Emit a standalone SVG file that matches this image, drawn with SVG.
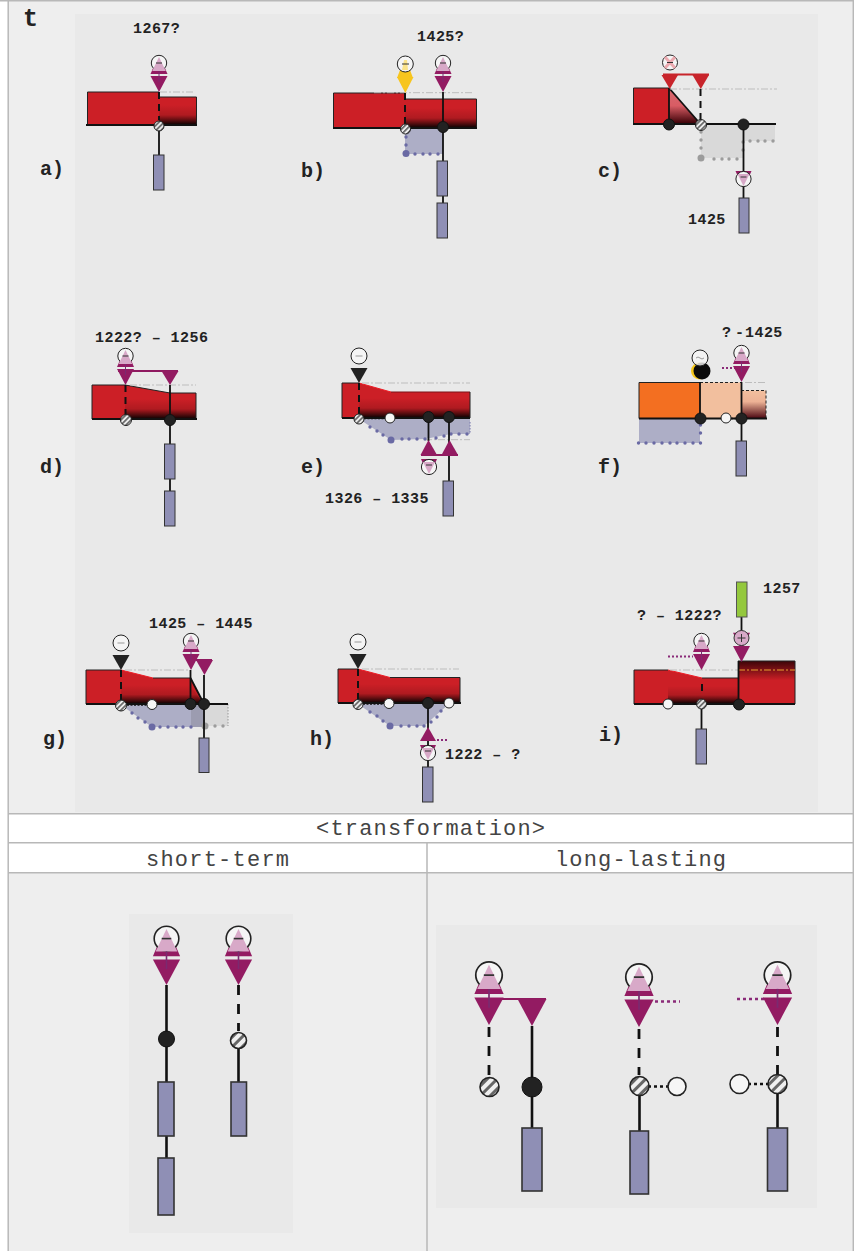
<svg xmlns="http://www.w3.org/2000/svg" width="854" height="1251" viewBox="0 0 854 1251">
<style>
.tx{font-family:"Liberation Mono",monospace;font-weight:bold;font-size:15px;letter-spacing:.45px;fill:#222}
.pl{font-family:"Liberation Mono",monospace;font-weight:bold;font-size:20px;fill:#222}
.tt{font-size:25px}
.hd{font-family:"Liberation Mono",monospace;font-size:22px;fill:#444}
.red{fill:#cc1f26}
.ol{fill:none;stroke:#222;stroke-width:1}
.base{stroke:#111;stroke-width:2;fill:none}
.sol{stroke:#111;stroke-width:1.8;fill:none}
.dash{stroke:#111;stroke-width:2;fill:none;stroke-dasharray:7 5}
.dd{stroke:#bdbdbd;stroke-width:1;fill:none;stroke-dasharray:7 2 2 2}
.dot{stroke:#111;stroke-width:1.6;fill:none;stroke-dasharray:2 1.5}
.pd{stroke:#8a2a78;stroke-width:1.8;fill:none;stroke-dasharray:2 2}
.bar{stroke:#8f1a60;stroke-width:2;fill:none}
.mg{fill:#931b62}
.blue{fill:#adaec6}
.gy{fill:#d9d9d9}
.bd{fill:#6a6aa4}
.gd{fill:#9c9c9c}
.box{fill:#8f8fb5;stroke:#333;stroke-width:1}
.blk{fill:#222;stroke:#111;stroke-width:1}
.wht{fill:#f6f6f6;stroke:#222;stroke-width:1}
.hat{fill:url(#hatch);stroke:#222;stroke-width:1}
.hat2{fill:url(#hatch2);stroke:#222;stroke-width:1.6}
.cir{fill:#f5f5f5;stroke:#222;stroke-width:1}
.pk{fill:#d8a9c8}
.mn{stroke:#333;stroke-width:1;fill:none}
.k2{stroke-width:1.6px}
.l2{stroke-width:2.6px}
.d2{stroke-width:2.8px;stroke-dasharray:10 9}
.o2{stroke-width:2.6px;stroke-dasharray:3 3}
</style>
<defs>
<linearGradient id="shade" x1="0" y1="0" x2="0" y2="1"><stop offset="0" stop-color="#000" stop-opacity="0"/><stop offset="0.5" stop-color="#100" stop-opacity="0.15"/><stop offset="1" stop-color="#000" stop-opacity="0.97"/></linearGradient>
<linearGradient id="slope" x1="0" y1="0" x2="0" y2="1"><stop offset="0" stop-color="#d76a70"/><stop offset="0.5" stop-color="#d85c64"/><stop offset="1" stop-color="#3a0006"/></linearGradient>
<linearGradient id="peach" x1="0" y1="0" x2="0" y2="1"><stop offset="0" stop-color="#f2bf9e"/><stop offset="0.4" stop-color="#edb295"/><stop offset="1" stop-color="#4a0510"/></linearGradient>
<linearGradient id="top" x1="0" y1="0" x2="0" y2="1"><stop offset="0" stop-color="#3c0508"/><stop offset="0.45" stop-color="#cc1f26"/><stop offset="1" stop-color="#cc1f26"/></linearGradient>
<pattern id="hatch" width="3.6" height="3.6" patternUnits="userSpaceOnUse" patternTransform="rotate(-45)"><rect width="3.6" height="3.6" fill="#ececec"/><rect width="3.6" height="1.6" fill="#5e5e5e"/></pattern>
<pattern id="hatch2" width="7" height="7" patternUnits="userSpaceOnUse" patternTransform="rotate(-45)"><rect width="7" height="7" fill="#efefef"/><rect width="7" height="3" fill="#666"/></pattern>
<g id="ves">
<polygon class="mg" points="-5.500,-25 5.500,-25 8.500,-18 -8.500,-18"/>
<polygon class="mg" points="-8.500,-16 8.500,-16 0,0"/>
<circle class="cir" cx="0" cy="-29" r="7.700"/>
<polygon class="pk" points="0,-35 6.800,-21 -6.800,-21"/>
<path d="M0,-21V-10" stroke="#7b2a70" stroke-width="1"/>
<path class="mn" d="M-3,-29H3"/>
</g>
<g id="vesup">
<polygon class="mg" points="-8,-8 8,-8 6,-3.500 -6,-3.500"/>
<circle class="cir" r="7.600"/>
<polygon class="pk" points="0,7 6,-5 -6,-5"/>
<path class="mn" d="M-3,-2H3"/>
</g>
</defs>

<g id="table">
<rect width="854" height="1251" fill="#fff"/>
<rect x="8" y="1" width="845" height="813" fill="#eeeeee"/>
<rect x="8" y="873" width="845" height="378" fill="#eeeeee"/>
<rect x="75" y="14" width="743" height="798" fill="#e9e9e9"/>
<rect x="129" y="914" width="164" height="319" fill="#e9e9e9"/>
<rect x="436" y="925" width="381" height="283" fill="#e9e9e9"/>
<path d="M0,.7H854M8.200,0V1251M853.300,0V1251M8,813.700H854M8,842.800H854M8,872.800H854M427,843V1251" stroke="#b8b8b8" stroke-width="1.500" fill="none"/>
<text class="hd" x="316" y="835" textLength="229">&lt;transformation&gt;</text>
<text class="hd" x="146" y="866" textLength="143">short-term</text>
<text class="hd" x="555" y="866" textLength="171">long-lasting</text>
</g>

<g id="terminals">
<g id="term-a">
<polygon class="red" points="87.500,92 159,92 159,97 196.500,97 196.500,125 87.500,125"/>
<rect x="159" y="105" width="37.500" height="20" fill="url(#shade)"/>
<path class="ol" d="M159,97H196.500V125M87.500,125V92H159"/>
<path class="dd" d="M160,92H195"/>
</g>
<g id="term-b">
<rect class="blue" x="405" y="129" width="38" height="25"/>
<polygon class="red" points="333.500,93 405,93 405,99 476.500,99 476.500,128 333.500,128"/>
<rect x="405" y="108" width="71.500" height="20" fill="url(#shade)"/>
<path class="ol" d="M405,99H476.500V128M333.500,128V93H405"/>
<path class="dd" d="M374,92.700H474"/>
<g class="bd"><circle cx="406" cy="153.500" r="3.500"/><circle cx="415" cy="154" r="1.700"/><circle cx="423" cy="154" r="1.700"/><circle cx="430" cy="154" r="1.700"/><circle cx="438" cy="154" r="1.700"/><circle cx="406" cy="137" r="1.700"/><circle cx="406" cy="145" r="1.700"/></g>
</g>
<g id="term-c">
<rect class="gy" x="701" y="125" width="42" height="33"/>
<rect class="gy" x="743" y="125" width="32" height="16"/>
<rect class="red" x="633.500" y="88" width="36" height="36"/>
<polygon points="669,88 700,123.500 669,123.500" fill="url(#slope)"/>
<path class="ol" d="M669,88H633.500V124"/>
<path class="sol" d="M669,88L700,123.500"/>
<path class="dd" d="M670,89H777"/>
<g class="gd"><circle cx="701" cy="158" r="3.500"/><circle cx="714" cy="159" r="1.700"/><circle cx="722" cy="159" r="1.700"/><circle cx="729" cy="159" r="1.700"/><circle cx="737" cy="159" r="1.700"/><circle cx="701" cy="132" r="1.700"/><circle cx="701" cy="140" r="1.700"/><circle cx="701" cy="148" r="1.700"/><circle cx="743" cy="142" r="1.700"/><circle cx="743" cy="150" r="1.700"/><circle cx="750" cy="141" r="1.700"/><circle cx="758" cy="141" r="1.700"/><circle cx="765" cy="141" r="1.700"/><circle cx="773" cy="141" r="1.700"/></g>
</g>
<g id="term-d">
<polygon class="red" points="92,385 125,385 170,393 196,393 196,419 92,419"/>
<rect x="125" y="399" width="71" height="20" fill="url(#shade)"/>
<path class="ol" d="M125,385L170,393H196V419M92,419V385H125"/>
<path class="dd" d="M130,385H196"/>
</g>
<g id="term-e">
<polygon class="blue" points="359,419 391,440 425,439 451,434 470,434 470,418"/>
<polygon class="red" points="342,383 359,383 391,392 470,392 470,417.500 342,417.500"/>
<rect x="359" y="398" width="111" height="20" fill="url(#shade)"/>
<path d="M359,383L391,392" stroke="#ee1c25" stroke-width="1" fill="none"/>
<path d="M391,392H470" stroke="#7c1518" stroke-width="1.200" fill="none"/>
<path class="ol" d="M470,392V418M342,418V383H359"/>
<path class="dd" d="M362,383H470M425,439.700H470"/>
<path d="M470,422V434" stroke="#8585b5" stroke-width="1.200" stroke-dasharray="1.500 1.500"/>
<g class="bd"><circle cx="370" cy="427" r="1.700"/><circle cx="377" cy="431" r="1.700"/><circle cx="383" cy="435" r="1.700"/><circle cx="391" cy="440" r="3.500"/><circle cx="402" cy="439" r="1.700"/><circle cx="409" cy="439" r="1.700"/><circle cx="417" cy="439" r="1.700"/><circle cx="425" cy="439" r="1.700"/><circle cx="436" cy="438" r="1.700"/><circle cx="444" cy="436" r="1.700"/><circle cx="451" cy="434" r="1.700"/><circle cx="459" cy="434" r="1.700"/><circle cx="467" cy="434" r="1.700"/></g>
</g>
<g id="term-f">
<rect class="blue" x="639" y="419" width="61" height="24"/>
<rect x="639" y="382.500" width="61" height="36" fill="#f36f21"/>
<rect x="700" y="382.500" width="41" height="36" fill="#f2bf9e"/>
<rect x="741" y="390.500" width="25" height="28" fill="url(#peach)"/>
<path class="ol" d="M700,382.500H639V418.500"/>
<path d="M700,382.500H741M741,390.500H766V418" stroke="#222" stroke-width="1" stroke-dasharray="3 2" fill="none"/>
<path class="dd" d="M745,382.500H767"/>
<g class="bd"><circle cx="638.500" cy="443" r="1.700"/><circle cx="646" cy="443" r="1.700"/><circle cx="654" cy="443" r="1.700"/><circle cx="662" cy="443" r="1.700"/><circle cx="670" cy="443" r="1.700"/><circle cx="677" cy="443" r="1.700"/><circle cx="685" cy="443" r="1.700"/><circle cx="693" cy="443" r="1.700"/><circle cx="700.500" cy="443" r="1.700"/><circle cx="700.500" cy="425" r="1.700"/><circle cx="700.500" cy="433" r="1.700"/></g>
</g>
<g id="term-g">
<rect class="gy" x="191" y="705" width="37" height="21"/>
<polygon class="blue" points="121,705 152,727 205,727 205,705"/>
<rect x="191" y="705" width="14" height="22" fill="#9c9cb0"/>
<polygon class="red" points="86,670 121,670 153,678 190.500,678 204,704 86,704"/>
<polygon points="121,685 190,685 204,704 121,704" fill="url(#shade)"/>
<path d="M121,670L153,678" stroke="#ee1c25" stroke-width="1" fill="none"/>
<path class="ol" d="M121,670H86V704M153,678H190.500"/>
<path class="sol" d="M190.500,678L204,704"/>
<path class="dd" d="M125,670H190"/>
<path d="M228,704V726" stroke="#999" stroke-width="1" stroke-dasharray="1.500 1.500"/>
<g class="bd"><circle cx="132" cy="713" r="1.700"/><circle cx="138" cy="718" r="1.700"/><circle cx="145" cy="722" r="1.700"/><circle cx="152" cy="727" r="3.500"/><circle cx="160" cy="727" r="1.700"/><circle cx="168" cy="727" r="1.700"/><circle cx="176" cy="727" r="1.700"/><circle cx="183" cy="727" r="1.700"/><circle cx="191" cy="727" r="1.700"/></g>
<g class="gd"><circle cx="205" cy="726" r="3.500"/><circle cx="215" cy="726" r="1.700"/><circle cx="223" cy="726" r="1.700"/></g>
</g>
<g id="term-h">
<polygon class="blue" points="358,704 390,726 424,726 442,710 449,704"/>
<polygon class="red" points="338,669 358,669 390,677.500 460,677.500 460,703 338,703"/>
<rect x="358" y="684" width="102" height="19" fill="url(#shade)"/>
<path d="M358,669L390,677.500" stroke="#ee1c25" stroke-width="1" fill="none"/>
<path class="ol" d="M390,677.500H460V703M338,703V669H358"/>
<path class="dd" d="M362,669H459"/>
<g class="bd"><circle cx="370" cy="712" r="1.700"/><circle cx="377" cy="716" r="1.700"/><circle cx="383" cy="721" r="1.700"/><circle cx="390" cy="726" r="3.500"/><circle cx="401" cy="726" r="1.700"/><circle cx="409" cy="726" r="1.700"/><circle cx="417" cy="726" r="1.700"/><circle cx="424" cy="726" r="1.700"/><circle cx="431" cy="722" r="1.700"/><circle cx="437" cy="717" r="1.700"/><circle cx="441" cy="711" r="1.700"/></g>
</g>
<g id="term-i">
<polygon class="red" points="634,670 668,670 702,678 738,678 738,704 634,704"/>
<rect x="668" y="686" width="70" height="18" fill="url(#shade)"/>
<rect x="738" y="661" width="57" height="43" fill="url(#top)"/>
<path d="M668,670L702,678" stroke="#ee1c25" stroke-width="1" fill="none"/>
<path class="ol" d="M668,670H634V704M702,678H738M738,661H795V704"/>
<path class="dd" d="M670,670H738"/>
<path d="M738,670H795" stroke="#e8a030" stroke-width="1" stroke-dasharray="7 2 2 2" fill="none"/>
</g>
</g>

<g id="connectors">
<path class="base" d="M86,125H197M333,128H477M633,124H776M92,419H197M342,418H470M639,418.500H767M86,704H228M338,703H461M634,704H795"/>
<path class="dash" d="M159,92V120M405,93V125M700.500,89V122M125.500,385V415M359,383V414M121,670V700M358,669V700M702,684V694"/>
<path class="sol" d="M159,126V155M443,92V238M669,88V124M743.500,124V198M170,385V526M428.500,417V441M449,417V481M700,382V418M741.500,382V441M190.500,670V704M204,675V738M428,703V767M738.500,661V704M701.500,704V729M741.500,617V631"/>
<path class="dash d2" d="M238.500,985V1031M489,1027V1078M639,1029V1075M777.500,1027V1075"/>
<path class="sol l2" d="M166.500,985V1215M238.500,1040V1082M532,1026V1128M639.500,1086V1131M777.500,1084V1128"/>
<path class="dot" d="M364,418.500H385M673,704H696M127,705H147M363,704H384M731,418.500H737"/>
<path class="dot o2" d="M648,1086.500H668M748,1084H768"/>
<path class="pd" d="M722,368H737M437,740H448M668,656.500H693"/>
<path class="pd o2" d="M655,1001.500H680M737,999H765"/>
<path class="bar" d="M118,371H178M421,455H458M196,660H212M491,999H546"/>
<path stroke="#c8242b" stroke-width="2" fill="none" d="M663,74.500H709"/>
</g>

<g id="panel-a">
<text class="tx" x="133" y="33">1267?</text>
<text class="pl" x="40" y="175">a)</text>
<text class="pl tt" x="23" y="26">t</text>
<use href="#ves" x="159" y="92"/>
<circle class="hat" cx="159" cy="126" r="5"/>
<rect class="box" x="153.500" y="155" width="10.500" height="35"/>
</g>
<g id="panel-b">
<text class="tx" x="417" y="41">1425?</text>
<text class="pl" x="301" y="177">b)</text>
<polygon points="400,70 410,70 413,78 397,78" fill="#f7c51e"/>
<polygon points="397,77 413.500,77 405.300,93" fill="#f7c51e"/>
<circle class="cir" cx="405.300" cy="64" r="8"/>
<polygon points="402,70 408,70 407,60 404,60" fill="#fbe38a"/>
<path class="mn" d="M402,64H409"/>
<use href="#ves" x="443" y="92"/>
<circle class="hat" cx="405.500" cy="129" r="5"/>
<circle class="blk" cx="443" cy="127" r="5.500"/>
<rect class="box" x="437" y="161" width="10.500" height="35"/>
<rect class="box" x="437" y="203" width="10.500" height="35"/>
</g>
<g id="panel-c">
<text class="tx" x="688" y="224">1425</text>
<text class="pl" x="598" y="177">c)</text>
<polygon points="661.500,75 678,75 669.800,89" fill="#c8242b"/>
<polygon points="692.500,75 709,75 700.800,89" fill="#c8242b"/>
<circle class="cir" cx="670" cy="62.500" r="7.500"/>
<path d="M665,57L675,68M675,57L665,68" stroke="#ecaab0" stroke-width="3"/>
<path class="mn" d="M667,62.500H673"/>
<circle class="blk" cx="669" cy="124.500" r="5.500"/>
<circle class="hat" cx="701" cy="125" r="5.500"/>
<circle class="blk" cx="743.500" cy="124.500" r="5.500"/>
<use href="#vesup" x="743.500" y="179"/>
<rect class="box" x="739" y="198" width="10" height="35"/>
</g>
<g id="panel-d">
<text class="tx" x="95" y="342">1222? – 1256</text>
<text class="pl" x="40" y="473">d)</text>
<use href="#ves" x="125.500" y="385"/>
<polygon class="mg" points="161.500,371 178.500,371 170,385"/>
<circle class="hat" cx="126" cy="420" r="5.500"/>
<circle class="blk" cx="170" cy="420" r="5.500"/>
<rect class="box" x="164.500" y="444" width="10.500" height="35"/>
<rect class="box" x="164.500" y="491" width="10.500" height="35"/>
</g>
<g id="panel-e">
<text class="tx" x="325" y="503">1326 – 1335</text>
<text class="pl" x="301" y="473">e)</text>
<circle class="cir" cx="359" cy="356" r="8"/>
<path d="M355.500,356H362.500" stroke="#999" stroke-width="1"/>
<polygon points="350.500,368 367.500,368 359,383" fill="#222"/>
<circle class="hat" cx="359" cy="419" r="5"/>
<circle class="wht" cx="390" cy="418" r="5"/>
<circle class="blk" cx="428.500" cy="417" r="5.500"/>
<circle class="blk" cx="449" cy="417" r="5.500"/>
<polygon class="mg" points="428.500,440 437,455 420.500,455"/>
<polygon class="mg" points="449.500,440 458,455 441.500,455"/>
<use href="#vesup" x="429" y="467"/>
<rect class="box" x="443" y="481" width="10.500" height="35"/>
</g>
<g id="panel-f">
<text class="tx" y="337"><tspan x="722">?</tspan><tspan x="735">-</tspan><tspan x="745">1425</tspan></text>
<text class="pl" x="598" y="473">f)</text>
<circle cx="699.500" cy="371" r="8.500" fill="#f5c71a"/>
<circle cx="702" cy="371" r="8.500" fill="#0a0a0a"/>
<circle class="cir" cx="700" cy="358" r="8" fill-opacity=".8"/>
<path d="M696,358q2,-2 4,0t4,0" stroke="#999" stroke-width="1" fill="none"/>
<use href="#ves" x="741.500" y="382"/>
<circle class="blk" cx="700.500" cy="418.500" r="5.500"/>
<circle class="blk" cx="741.500" cy="418.500" r="5.500"/>
<circle class="wht" cx="726" cy="418" r="5"/>
<rect class="box" x="736" y="441" width="10.500" height="35"/>
</g>
<g id="panel-g">
<text class="tx" x="149" y="628">1425 – 1445</text>
<text class="pl" x="43" y="745">g)</text>
<circle class="cir" cx="121" cy="643" r="8"/>
<path d="M117.500,643H124.500" stroke="#999" stroke-width="1"/>
<polygon points="112.500,655 129.500,655 121,670" fill="#222"/>
<use href="#ves" x="191" y="670"/>
<polygon class="mg" points="196,660 213,660 204.500,675"/>
<circle class="hat" cx="121" cy="705.500" r="5.500"/>
<circle class="wht" cx="152" cy="704.500" r="5"/>
<circle class="blk" cx="190.500" cy="704" r="5.500"/>
<circle class="blk" cx="204" cy="704" r="5.500"/>
<rect class="box" x="199" y="738" width="10" height="34.500"/>
</g>
<g id="panel-h">
<text class="tx" x="445" y="759">1222 – ?</text>
<text class="pl" x="310" y="745">h)</text>
<circle class="cir" cx="358" cy="642" r="8"/>
<path d="M354.500,642H361.500" stroke="#999" stroke-width="1"/>
<polygon points="349.500,654 366.500,654 358,669" fill="#222"/>
<circle class="hat" cx="358" cy="704.500" r="5"/>
<circle class="wht" cx="389" cy="703.500" r="5"/>
<circle class="blk" cx="428" cy="703" r="5.500"/>
<circle class="wht" cx="449" cy="703" r="5"/>
<polygon class="mg" points="428,727 436,741 420,741"/>
<use href="#vesup" x="428" y="753"/>
<rect class="box" x="422.500" y="767" width="10.500" height="35"/>
</g>
<g id="panel-i">
<text class="tx" x="763" y="593">1257</text>
<text class="tx" x="637" y="620">? – 1222?</text>
<text class="pl" x="599" y="741">i)</text>
<use href="#ves" x="701.500" y="670"/>
<polygon class="mg" points="733,632.700 750,632.700 741.500,650"/>
<polygon class="mg" points="733,646 750,646 741.500,662"/>
<circle cx="741.500" cy="638" r="7.500" fill="#d8a9c8" stroke="#333" stroke-width="1"/>
<path class="mn" d="M737.500,638H745.500M741.500,634V642"/>
<rect x="736.500" y="582" width="10.500" height="35" fill="#94c83d" stroke="#555" stroke-width="1"/>
<circle class="wht" cx="668" cy="704" r="5"/>
<circle class="hat" cx="701.500" cy="704" r="5"/>
<circle class="blk" cx="739" cy="704.500" r="5.500"/>
<rect class="box" x="696" y="729" width="10.500" height="35"/>
</g>

<g id="short-term">
<use href="#ves" transform="translate(166.500,985) scale(1.6)"/>
<circle class="blk" cx="166.500" cy="1039" r="8"/>
<rect class="box k2" x="158" y="1082" width="16" height="54"/>
<rect class="box k2" x="158" y="1158" width="16" height="57"/>
<use href="#ves" transform="translate(238.500,985) scale(1.6)"/>
<circle class="hat2" cx="238.500" cy="1040.500" r="8"/>
<rect class="box k2" x="231" y="1082" width="15.500" height="54"/>
</g>
<g id="long-lasting">
<use href="#ves" transform="translate(489,1025) scale(1.72)"/>
<polygon class="mg" points="517.500,999 546.500,999 532,1026"/>
<circle class="hat2" cx="489.500" cy="1087" r="9.500"/>
<circle class="blk" cx="532" cy="1087" r="10"/>
<rect class="box k2" x="522" y="1128" width="20" height="63"/>
<use href="#ves" transform="translate(639,1027) scale(1.72)"/>
<circle class="hat2" cx="639.500" cy="1086" r="9.500"/>
<circle class="wht k2" cx="677" cy="1086.500" r="9"/>
<rect class="box k2" x="630" y="1131" width="18.500" height="63"/>
<use href="#ves" transform="translate(777.500,1025) scale(1.72)"/>
<circle class="hat2" cx="777.500" cy="1084" r="9.500"/>
<circle class="wht k2" cx="739.500" cy="1084" r="9.500"/>
<rect class="box k2" x="767.500" y="1128" width="20" height="63"/>
</g>
</svg>
